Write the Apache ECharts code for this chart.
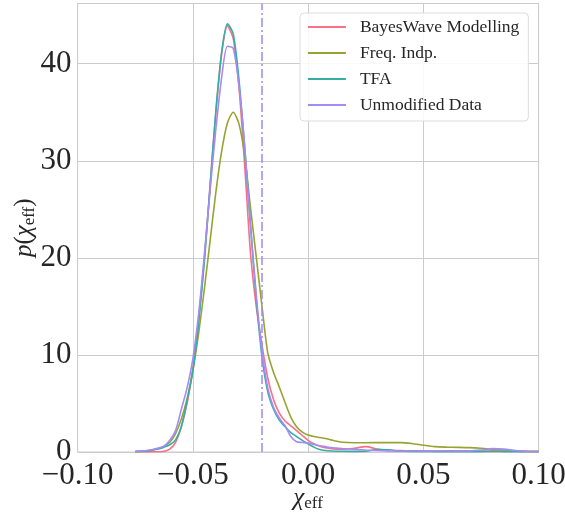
<!DOCTYPE html>
<html>
<head>
<meta charset="utf-8">
<script src="https://cdn.jsdelivr.net/npm/echarts@6/dist/echarts.min.js"></script>
<style>html,body{margin:0;padding:0;background:#fff}#chart{width:565px;height:512px}</style>
</head>
<body>
<div id="chart"></div>
<script>
// ---- data ----
const seriesNames = ['BayesWave Modelling', 'Freq. Indp.', 'TFA', 'Unmodified Data'];
const xs = [-0.075, -0.0725, -0.070, -0.0675, -0.065, -0.0625, -0.060, -0.0575, -0.055, -0.0525,
  -0.050, -0.0475, -0.045, -0.0425, -0.040, -0.0375, -0.035, -0.0325, -0.030, -0.0275,
  -0.025, -0.0225, -0.020, -0.0175, -0.015, -0.0125, -0.010, -0.0075, -0.005, -0.0025,
  0.000, 0.0025, 0.005, 0.0075, 0.010, 0.0125, 0.015, 0.020, 0.025, 0.030,
  0.035, 0.040, 0.045, 0.050, 0.055, 0.060, 0.065, 0.070, 0.075, 0.080,
  0.085, 0.090, 0.095, 0.100];
const bayesWave = [0.0, 0.0, 0.01, 0.02, 0.03, 0.08, 0.3, 1.0, 2.6, 5.0,
  8.6, 13.6, 20.0, 27.5, 35.0, 41.0, 43.9, 42.6, 37.6, 29.5,
  20.5, 15.0, 11.0, 7.6, 5.4, 4.0, 3.2, 2.7, 2.2, 1.7,
  1.2, 0.85, 0.6, 0.45, 0.35, 0.3, 0.28, 0.38, 0.55, 0.3,
  0.15, 0.14, 0.12, 0.1, 0.1, 0.12, 0.12, 0.1, 0.1, 0.12,
  0.1, 0.07, 0.05, 0.04];
const freqIndp = [0.05, 0.08, 0.12, 0.2, 0.35, 0.6, 1.0, 1.9, 3.4, 5.5,
  8.4, 12.2, 16.8, 21.8, 26.8, 31.0, 33.9, 35.0, 33.8, 30.5,
  25.2, 20.1, 15.0, 10.2, 8.2, 6.7, 5.1, 3.6, 2.6, 2.05,
  1.75, 1.6, 1.5, 1.4, 1.25, 1.1, 1.0, 0.96, 0.96, 0.97,
  0.97, 0.97, 0.88, 0.7, 0.55, 0.5, 0.48, 0.45, 0.38, 0.28,
  0.2, 0.12, 0.08, 0.07];
const tfa = [0.05, 0.08, 0.12, 0.2, 0.32, 0.5, 0.75, 1.25, 2.6, 5.3,
  8.3, 13.3, 19.6, 27.5, 35.2, 41.2, 44.1, 43.1, 38.4, 31.3,
  23.3, 15.8, 9.8, 6.2, 4.4, 3.3, 2.6, 2.0, 1.6, 1.2,
  0.85, 0.5, 0.25, 0.15, 0.1, 0.08, 0.07, 0.06, 0.08, 0.25,
  0.22, 0.1, 0.06, 0.05, 0.04, 0.04, 0.03, 0.03, 0.04, 0.05,
  0.04, 0.03, 0.02, 0.02];
const unmodified = [0.05, 0.1, 0.15, 0.25, 0.4, 0.6, 1.2, 2.2, 4.4, 6.6,
  9.6, 14.2, 20.3, 27.0, 33.3, 38.6, 41.8, 41.6, 37.8, 31.5,
  23.5, 16.2, 10.4, 6.6, 4.6, 3.5, 2.7, 1.6, 1.05, 0.98,
  0.92, 0.78, 0.65, 0.55, 0.45, 0.4, 0.35, 0.28, 0.2, 0.15,
  0.12, 0.1, 0.1, 0.12, 0.1, 0.1, 0.12, 0.12, 0.2, 0.35,
  0.3, 0.15, 0.08, 0.05];
const refLineX = -0.0188;
const xTickLabels = ['\u22120.10', '\u22120.05', '0.00', '0.05', '0.10'];
const yTickLabels = ['0', '10', '20', '30', '40'];

// ---- chart ----
const FONT = "'Liberation Serif', 'DejaVu Serif', serif";
const colors = ['#f77189', '#97a431', '#36ada4', '#a48cf4'];
const ys = [bayesWave, freqIndp, tfa, unmodified];

const series = seriesNames.map((name, k) => ({
  name: name,
  type: 'line',
  data: xs.map((x, i) => [x, ys[k][i]]),
  symbol: 'none',
  smooth: 0.25,
  lineStyle: { color: colors[k], width: 1.6 },
  itemStyle: { color: colors[k] },
  z: 2 + k
}));
series[0].markLine = {
  silent: true,
  symbol: 'none',
  label: { show: false },
  lineStyle: { color: '#9d8bf6', width: 1.5, type: [9, 3, 2, 3] },
  emphasis: { disabled: true },
  data: [{ xAxis: refLineX }]
};

const chart = echarts.init(document.getElementById('chart'), null, { renderer: 'canvas' });
chart.setOption({
  animation: false,
  backgroundColor: '#ffffff',
  grid: { left: 77.6, right: 26.4, top: 3.5, bottom: 60, show: true, borderColor: '#cccccc', borderWidth: 1,
          containLabel: false, outerBoundsMode: 'none' },
  xAxis: {
    type: 'value', min: -0.1, max: 0.1, interval: 0.05,
    axisLine: { show: false }, axisTick: { show: false },
    splitLine: { show: true, lineStyle: { color: '#cccccc', width: 1 } },
    axisLabel: {
      fontFamily: FONT, fontSize: 31, color: '#262626', margin: 8,
      formatter: v => xTickLabels[Math.round((v + 0.1) / 0.05)] || ''
    },
    name: '{g|\u03C7}{s|eff}',
    nameLocation: 'middle', nameGap: 34, nameMoveOverlap: false,
    nameTextStyle: {
      rich: {
        g: { fontFamily: FONT, fontStyle: 'italic', fontSize: 25, color: '#262626', lineHeight: 26, verticalAlign: 'top' },
        s: { fontFamily: FONT, fontSize: 17, color: '#262626', lineHeight: 12, verticalAlign: 'bottom' }
      }
    }
  },
  yAxis: {
    type: 'value', min: 0, max: 46.2, interval: 10,
    axisLine: { show: false }, axisTick: { show: false },
    splitLine: { show: true, lineStyle: { color: '#cccccc', width: 1 } },
    axisLabel: {
      fontFamily: FONT, fontSize: 31, color: '#262626', margin: 6,
      formatter: v => (Math.abs(v % 10) < 1e-9 ? (yTickLabels[Math.round(v / 10)] || '') : '')
    },
    name: '{i|p}{n|(}{i|\u03C7}{s|eff}{n|)}',
    nameLocation: 'middle', nameRotate: 90, nameGap: 40, nameMoveOverlap: false,
    nameTextStyle: {
      rich: {
        i: { fontFamily: FONT, fontStyle: 'italic', fontSize: 25, color: '#262626', lineHeight: 26, verticalAlign: 'top' },
        n: { fontFamily: FONT, fontSize: 25, color: '#262626', lineHeight: 26, verticalAlign: 'top' },
        s: { fontFamily: FONT, fontSize: 17, color: '#262626', lineHeight: 12, verticalAlign: 'bottom' }
      }
    }
  },
  legend: {
    data: seriesNames,
    orient: 'vertical',
    left: 300, top: 13,
    itemWidth: 38, itemHeight: 18, itemGap: 8,
    padding: [5, 9, 7, 7],
    backgroundColor: 'rgba(255,255,255,0.85)',
    borderColor: '#dddddd', borderWidth: 1, borderRadius: 4,
    itemStyle: { opacity: 0 },
    lineStyle: { width: 1.8 },
    textStyle: { fontFamily: FONT, fontSize: 17.5, color: '#262626', lineHeight: 18, padding: [0, 0, 0, 9] }
  },
  series: series
});
</script>
</body>
</html>
